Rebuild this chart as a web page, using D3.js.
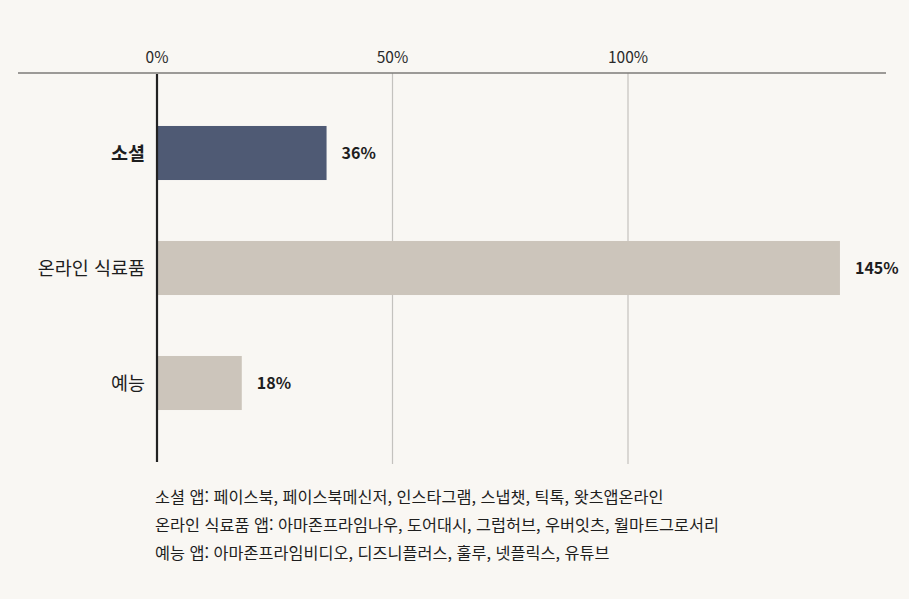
<!DOCTYPE html>
<html lang="ko">
<head>
<meta charset="UTF-8">
<title>앱 카테고리 성장률</title>
<script src="https://d3js.org/d3.v7.min.js"></script>
<style>
    html, body { margin: 0; padding: 0; background: #f9f7f3; }
    body { font-family: 'Noto Sans CJK KR', 'Noto Sans', sans-serif; color: #222; }
    #chart { width: 909px; height: 599px; }
    .note { font-size: 16.3px; fill: #1e1e1e; }
</style>
</head>
<body>
<div id="chart"></div>
<script>
    // data
    const categories = ["소셜", "온라인 식료품", "예능"];
    const values = [36, 145, 18];
    const tickValues = [0, 50, 100];
    const tickLabels = ["0%", "50%", "100%"];
    const notes = [
        "소셜 앱: 페이스북, 페이스북메신저, 인스타그램, 스냅챗, 틱톡, 왓츠앱온라인",
        "온라인 식료품 앱: 아마존프라임나우, 도어대시, 그럽허브, 우버잇츠, 월마트그로서리",
        "예능 앱: 아마존프라임비디오, 디즈니플러스, 훌루, 넷플릭스, 유튜브"
    ];

    const width = 909, height = 599;
    const svg = d3.select("#chart").append("svg")
        .attr("width", width).attr("height", height);

    svg.append("rect").attr("width", width).attr("height", height).attr("fill", "#f9f7f3");

    const x = d3.scaleLinear().domain([0, 100]).range([157, 628]);
    const y = d3.scaleBand().domain(categories).range([95.5, 440.5])
        .paddingInner(0.53).paddingOuter(0.265);

    // gridlines (0 is drawn as the dark baseline)
    svg.selectAll(".grid")
        .data(tickValues.filter(d => d > 0))
        .enter().append("line")
        .attr("x1", d => x(d)).attr("x2", d => x(d))
        .attr("y1", 73).attr("y2", 464)
        .attr("stroke", "#c4c2be").attr("stroke-width", 1.2);

    // top axis line
    svg.append("line")
        .attr("x1", 18).attr("x2", 886)
        .attr("y1", 73).attr("y2", 73)
        .attr("stroke", "#7d7b78").attr("stroke-width", 1.5);

    // tick labels
    svg.selectAll(".tick-label")
        .data(tickValues)
        .enter().append("text")
        .attr("x", d => x(d)).attr("y", 63)
        .attr("text-anchor", "middle")
        .attr("font-size", 15.5)
        .attr("fill", "#2a2a2a")
        .text((d, i) => tickLabels[i]);

    // bars
    svg.selectAll(".bar")
        .data(categories)
        .enter().append("rect")
        .attr("x", x(0))
        .attr("y", d => y(d))
        .attr("width", (d, i) => x(values[i]) - x(0))
        .attr("height", y.bandwidth())
        .attr("fill", (d, i) => i === 0 ? "#4f5a74" : "#ccc5bb");

    // baseline
    svg.append("line")
        .attr("x1", x(0)).attr("x2", x(0))
        .attr("y1", 74).attr("y2", 462)
        .attr("stroke", "#222").attr("stroke-width", 2.2);

    // category labels
    svg.selectAll(".cat")
        .data(categories)
        .enter().append("text")
        .attr("x", 145)
        .attr("y", d => y(d) + y.bandwidth() / 2)
        .attr("dy", "0.36em")
        .attr("text-anchor", "end")
        .attr("font-size", 18.5)
        .attr("font-weight", (d, i) => i === 0 ? 700 : 400)
        .attr("fill", "#1e1e1e")
        .text(d => d);

    // value labels
    svg.selectAll(".val")
        .data(categories)
        .enter().append("text")
        .attr("x", (d, i) => x(values[i]) + 15)
        .attr("y", d => y(d) + y.bandwidth() / 2)
        .attr("dy", "0.36em")
        .attr("font-size", 16)
        .attr("font-weight", 700)
        .attr("fill", "#1e1e1e")
        .text((d, i) => values[i] + "%");

    // footnotes
    svg.selectAll(".note")
        .data(notes)
        .enter().append("text")
        .attr("class", "note")
        .attr("x", 155)
        .attr("y", (d, i) => 503 + i * 28)
        .text(d => d);
</script>
</body>
</html>
